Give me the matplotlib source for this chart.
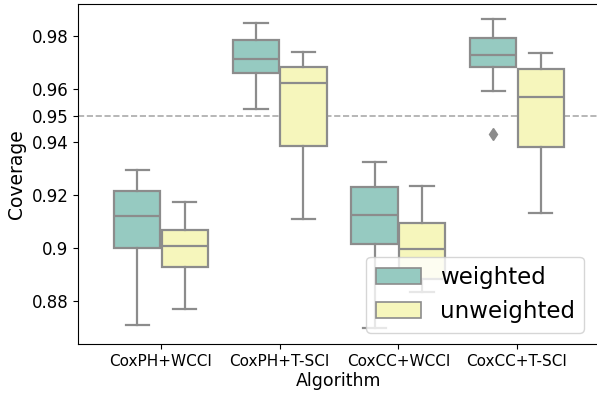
import colorsys
import matplotlib
matplotlib.use("Agg")
import matplotlib.pyplot as plt
from matplotlib.patches import Patch

plt.rcParams["font.family"] = ["DejaVu Sans"]

# Box summary statistics per algorithm and weighting scheme
algorithms = ["CoxPH+WCCI", "CoxPH+T-SCI", "CoxCC+WCCI", "CoxCC+T-SCI"]
groups = ["weighted", "unweighted"]

whislo = {
    "weighted":   [0.8709, 0.9524, 0.8697, 0.9592],
    "unweighted": [0.8770, 0.9109, 0.8834, 0.9132],
}
q1 = {
    "weighted":   [0.9002, 0.9661, 0.9017, 0.9684],
    "unweighted": [0.8927, 0.9385, 0.8884, 0.9380],
}
med = {
    "weighted":   [0.9120, 0.9714, 0.9125, 0.9727],
    "unweighted": [0.9009, 0.9622, 0.8997, 0.9570],
}
q3 = {
    "weighted":   [0.9216, 0.9784, 0.9230, 0.9791],
    "unweighted": [0.9069, 0.9683, 0.9094, 0.9677],
}
whishi = {
    "weighted":   [0.9293, 0.9849, 0.9326, 0.9864],
    "unweighted": [0.9175, 0.9741, 0.9233, 0.9736],
}
fliers = {
    "weighted":   [[], [], [], [0.9431]],
    "unweighted": [[], [], [], []],
}

target = 0.95
ytick_vals = [0.88, 0.90, 0.92, 0.94, 0.95, 0.96, 0.98]
ytick_labels = ["0.88", "0.9", "0.92", "0.94", "0.95", "0.96", "0.98"]


def desaturate(hexcol, prop=0.75):
    r, g, b = matplotlib.colors.to_rgb(hexcol)
    h, l, s = colorsys.rgb_to_hls(r, g, b)
    return colorsys.hls_to_rgb(h, l, s * prop)


colors = {"weighted": desaturate("#8dd3c7"), "unweighted": desaturate("#ffffb3")}
gray = "#8c8c8c"

fig = plt.figure(figsize=(5.97, 3.99), dpi=100)
ax = fig.add_axes([78 / 597, 1 - 344 / 399, 522 / 597, 340 / 399])

width = 0.39
offsets = {"weighted": -0.2, "unweighted": 0.2}
for g in groups:
    stats = []
    for i in range(len(algorithms)):
        stats.append(dict(whislo=whislo[g][i], q1=q1[g][i], med=med[g][i],
                          q3=q3[g][i], whishi=whishi[g][i], fliers=fliers[g][i]))
    positions = [i + offsets[g] for i in range(len(algorithms))]
    ax.bxp(stats, positions=positions, widths=width, patch_artist=True,
           showfliers=True, manage_ticks=False,
           boxprops=dict(facecolor=colors[g], edgecolor=gray, linewidth=1.6),
           medianprops=dict(color=gray, linewidth=1.6),
           whiskerprops=dict(color=gray, linewidth=1.6),
           capprops=dict(color=gray, linewidth=1.6),
           flierprops=dict(marker="d", markerfacecolor=gray, markeredgecolor=gray,
                           markersize=6))

ax.axhline(target, color="#aaaaaa", linestyle="--", linewidth=1.2, zorder=0.5)

ax.set_xlim(-0.7, 3.7)
ax.set_ylim(0.8638, 0.9921)
ax.set_xticks(range(len(algorithms)))
ax.set_xticklabels(algorithms, fontsize=11)
ax.set_yticks(ytick_vals)
ax.set_yticklabels(ytick_labels, fontsize=12)
ax.set_xlabel("Algorithm", fontsize=12.5, labelpad=2)
ax.set_ylabel("Coverage", fontsize=13.5)

handles = [Patch(facecolor=colors[g], edgecolor=gray, linewidth=1.2, label=g) for g in groups]
ax.legend(handles=handles, loc="lower right", fontsize=16.5,
          bbox_to_anchor=(0.978, 0.02), borderaxespad=0.2)

fig.savefig("out.png", dpi=100)
